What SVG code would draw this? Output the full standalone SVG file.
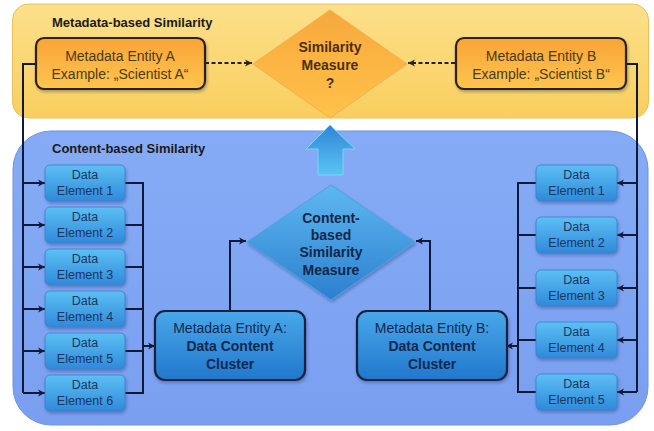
<svg xmlns="http://www.w3.org/2000/svg" width="654" height="431" viewBox="0 0 654 431">
<defs>
<linearGradient id="gYel" x1="0" y1="0" x2="0" y2="1"><stop offset="0" stop-color="#FCE08A"/><stop offset="1" stop-color="#F9CE5E"/></linearGradient>
<linearGradient id="gBlueP" x1="0" y1="0" x2="0" y2="1"><stop offset="0" stop-color="#86ABF6"/><stop offset="1" stop-color="#7A9FF0"/></linearGradient>
<linearGradient id="gOr" x1="0" y1="0" x2="0" y2="1"><stop offset="0" stop-color="#F9A437"/><stop offset="1" stop-color="#FFC54F"/></linearGradient>
<linearGradient id="gDia" x1="0" y1="0" x2="0" y2="1"><stop offset="0" stop-color="#F8A83C"/><stop offset="1" stop-color="#FFC24A"/></linearGradient>
<linearGradient id="gData" x1="0" y1="0" x2="0" y2="1"><stop offset="0" stop-color="#5CC0F4"/><stop offset="1" stop-color="#2F8ADA"/></linearGradient>
<linearGradient id="gClu" x1="0" y1="0" x2="0" y2="1"><stop offset="0" stop-color="#49A8EA"/><stop offset="1" stop-color="#2277CC"/></linearGradient>
<linearGradient id="gCDia" x1="0" y1="0" x2="0" y2="1"><stop offset="0" stop-color="#5EB8F0"/><stop offset="1" stop-color="#2C7FCF"/></linearGradient>
<linearGradient id="gArr" x1="0" y1="0" x2="0" y2="1"><stop offset="0" stop-color="#2F86D6"/><stop offset="1" stop-color="#5BC4F4"/></linearGradient>
<filter id="sh" x="-10%" y="-10%" width="130%" height="140%"><feDropShadow dx="1" dy="2" stdDeviation="1.5" flood-color="#1a2a60" flood-opacity="0.35"/></filter>
<marker id="ah" markerWidth="8" markerHeight="8" refX="7" refY="4" orient="auto" markerUnits="userSpaceOnUse"><path d="M0,0.5 L7,4 L0,7.5 L2,4 z" fill="#0E1A3A"/></marker>
<marker id="ahd" markerWidth="8" markerHeight="8" refX="7" refY="4" orient="auto" markerUnits="userSpaceOnUse"><path d="M0,0.5 L7,4 L0,7.5 L2,4 z" fill="#222"/></marker>
</defs>
<style>
.t{font-family:"Liberation Sans",Arial,sans-serif;text-anchor:middle}
.title{font-family:"Liberation Sans",Arial,sans-serif;font-weight:bold;font-size:13px;fill:#1a1a1a}
.orbox{fill:url(#gOr);stroke:#2a2418;stroke-width:2.2}
.ortxt{font-size:14px;fill:#4a3a1a}
.data{fill:url(#gData);stroke:#3A7FC8;stroke-width:0.8}
.dtxt{font-size:12.5px;fill:#1B3561}
.clu{fill:url(#gClu);stroke:#15243F;stroke-width:2.2}
.ctxt{font-size:14px;fill:#13284F}
.b{font-weight:bold}
.ln{fill:none;stroke:#0E1A3A;stroke-width:2}
.dash{fill:none;stroke:#222;stroke-width:2;stroke-dasharray:4 2.5}
</style>
<rect width="654" height="431" fill="#fff"/>
<g id="panel-metadata">
<rect x="12.5" y="4" width="636" height="114" rx="16" fill="url(#gYel)" stroke="#E8C060" stroke-width="1"/>
<text class="title" x="52" y="27">Metadata-based Similarity</text>
</g>
<g id="panel-content">
<rect x="13" y="131" width="635" height="294" rx="38" fill="url(#gBlueP)" stroke="#6E93E0" stroke-width="1"/>
<text class="title" x="52" y="153">Content-based Similarity</text>
</g>
<g id="connectors">
<line class="dash" x1="205" y1="63" x2="252" y2="63" marker-end="url(#ahd)"/>
<line class="dash" x1="455" y1="63" x2="408" y2="63" marker-end="url(#ahd)"/>
<path class="ln" d="M36,64 H23 V393"/>
<line class="ln" x1="23" y1="183" x2="45" y2="183" marker-end="url(#ah)"/>
<line class="ln" x1="23" y1="225" x2="45" y2="225" marker-end="url(#ah)"/>
<line class="ln" x1="23" y1="267" x2="45" y2="267" marker-end="url(#ah)"/>
<line class="ln" x1="23" y1="309" x2="45" y2="309" marker-end="url(#ah)"/>
<line class="ln" x1="23" y1="351" x2="45" y2="351" marker-end="url(#ah)"/>
<line class="ln" x1="23" y1="393" x2="45" y2="393" marker-end="url(#ah)"/>
<path class="ln" d="M125,183 H143 V393 H125 M125,225 H143 M125,267 H143 M125,309 H143 M125,351 H143"/>
<line class="ln" x1="143" y1="346" x2="155" y2="346" marker-end="url(#ah)"/>
<path class="ln" d="M626,64 H637 V392"/>
<line class="ln" x1="637" y1="183" x2="617" y2="183" marker-end="url(#ah)"/>
<line class="ln" x1="637" y1="235" x2="617" y2="235" marker-end="url(#ah)"/>
<line class="ln" x1="637" y1="288" x2="617" y2="288" marker-end="url(#ah)"/>
<line class="ln" x1="637" y1="340" x2="617" y2="340" marker-end="url(#ah)"/>
<line class="ln" x1="637" y1="392" x2="617" y2="392" marker-end="url(#ah)"/>
<path class="ln" d="M536,183 H518 V392 H536 M536,235 H518 M536,288 H518 M536,340 H518"/>
<line class="ln" x1="518" y1="346" x2="506" y2="346" marker-end="url(#ah)"/>
<path class="ln" d="M230,311 V241 H246" marker-end="url(#ah)"/>
<path class="ln" d="M430,311 V241 H416" marker-end="url(#ah)"/>
</g>
<g id="entity-a">
<rect class="orbox" x="36" y="38" width="169" height="51" rx="8" filter="url(#sh)"/>
<text class="t ortxt" x="120" y="61">Metadata Entity A</text>
<text class="t ortxt" x="120" y="79">Example: „Scientist A“</text>
</g>
<g id="entity-b">
<rect class="orbox" x="456" y="38" width="170" height="51" rx="8" filter="url(#sh)"/>
<text class="t ortxt" x="541" y="61">Metadata Entity B</text>
<text class="t ortxt" x="541" y="79">Example: „Scientist B“</text>
</g>
<g id="similarity-measure">
<polygon points="330,10 407,64 330,118 253,64" fill="url(#gDia)" stroke="#F0B050" stroke-width="1"/>
<text class="t b" x="330" y="52" font-size="14" fill="#4A2E0E">Similarity</text>
<text class="t b" x="330" y="70" font-size="14" fill="#4A2E0E">Measure</text>
<text class="t b" x="330" y="88" font-size="14" fill="#4A2E0E">?</text>
</g>
<g id="up-arrow">
<polygon points="330,125 355,149 343,149 343,175 318,175 318,149 306,149" fill="url(#gArr)" stroke="#7FD0F8" stroke-width="1"/>
</g>
<g id="content-measure">
<polygon points="331,185 415,242 331,300 247,242" fill="url(#gCDia)" stroke="#4FA0E0" stroke-width="1" filter="url(#sh)"/>
<text class="t b" x="331" y="223" font-size="14" fill="#12264A">Content-</text>
<text class="t b" x="331" y="240" font-size="14" fill="#12264A">based</text>
<text class="t b" x="331" y="257" font-size="14" fill="#12264A">Similarity</text>
<text class="t b" x="331" y="275" font-size="14" fill="#12264A">Measure</text>
</g>
<g id="cluster-a">
<rect class="clu" x="155" y="311" width="150" height="69" rx="10" filter="url(#sh)"/>
<text class="t ctxt" x="230" y="333">Metadata Entity A:</text>
<text class="t ctxt b" x="230" y="351">Data Content</text>
<text class="t ctxt b" x="230" y="369">Cluster</text>
</g>
<g id="cluster-b">
<rect class="clu" x="357" y="311" width="150" height="69" rx="10" filter="url(#sh)"/>
<text class="t ctxt" x="432" y="333">Metadata Entity B:</text>
<text class="t ctxt b" x="432" y="351">Data Content</text>
<text class="t ctxt b" x="432" y="369">Cluster</text>
</g>
<g id="a-data-1"><rect class="data" x="45" y="165" width="80" height="36" rx="5" filter="url(#sh)"/><text class="t dtxt" x="85" y="179">Data</text><text class="t dtxt" x="85" y="195">Element 1</text></g>
<g id="a-data-2"><rect class="data" x="45" y="207" width="80" height="36" rx="5" filter="url(#sh)"/><text class="t dtxt" x="85" y="221">Data</text><text class="t dtxt" x="85" y="237">Element 2</text></g>
<g id="a-data-3"><rect class="data" x="45" y="249" width="80" height="36" rx="5" filter="url(#sh)"/><text class="t dtxt" x="85" y="263">Data</text><text class="t dtxt" x="85" y="279">Element 3</text></g>
<g id="a-data-4"><rect class="data" x="45" y="291" width="80" height="36" rx="5" filter="url(#sh)"/><text class="t dtxt" x="85" y="305">Data</text><text class="t dtxt" x="85" y="321">Element 4</text></g>
<g id="a-data-5"><rect class="data" x="45" y="333" width="80" height="36" rx="5" filter="url(#sh)"/><text class="t dtxt" x="85" y="347">Data</text><text class="t dtxt" x="85" y="363">Element 5</text></g>
<g id="a-data-6"><rect class="data" x="45" y="375" width="80" height="36" rx="5" filter="url(#sh)"/><text class="t dtxt" x="85" y="389">Data</text><text class="t dtxt" x="85" y="405">Element 6</text></g>
<g id="b-data-1"><rect class="data" x="536" y="165" width="81" height="36" rx="5" filter="url(#sh)"/><text class="t dtxt" x="576.5" y="179">Data</text><text class="t dtxt" x="576.5" y="195">Element 1</text></g>
<g id="b-data-2"><rect class="data" x="536" y="217" width="81" height="36" rx="5" filter="url(#sh)"/><text class="t dtxt" x="576.5" y="231">Data</text><text class="t dtxt" x="576.5" y="247">Element 2</text></g>
<g id="b-data-3"><rect class="data" x="536" y="270" width="81" height="36" rx="5" filter="url(#sh)"/><text class="t dtxt" x="576.5" y="284">Data</text><text class="t dtxt" x="576.5" y="300">Element 3</text></g>
<g id="b-data-4"><rect class="data" x="536" y="322" width="81" height="36" rx="5" filter="url(#sh)"/><text class="t dtxt" x="576.5" y="336">Data</text><text class="t dtxt" x="576.5" y="352">Element 4</text></g>
<g id="b-data-5"><rect class="data" x="536" y="374" width="81" height="36" rx="5" filter="url(#sh)"/><text class="t dtxt" x="576.5" y="388">Data</text><text class="t dtxt" x="576.5" y="404">Element 5</text></g>
</svg>
